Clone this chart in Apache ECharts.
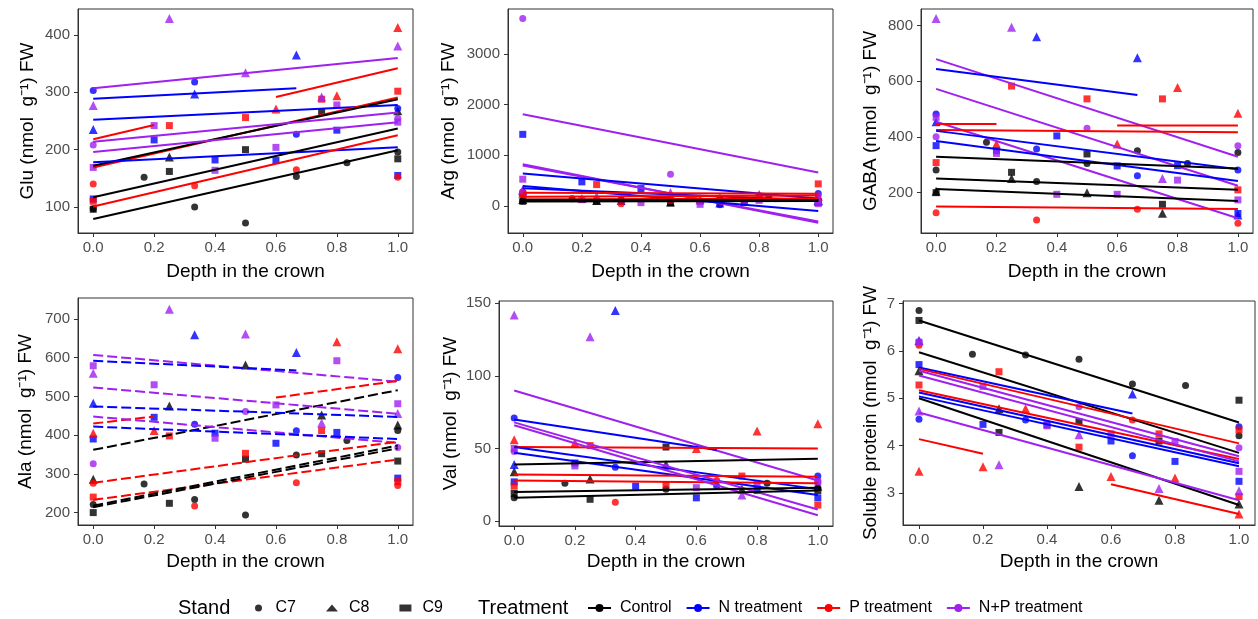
<!DOCTYPE html>
<html>
<head>
<meta charset="utf-8">
<script src="https://cdn.jsdelivr.net/npm/echarts@6/dist/echarts.min.js"></script>
<style>
html,body{margin:0;padding:0;background:#fff}
#chart{width:1258px;height:619px}
</style>
</head>
<body>
<div id="chart"></div>
<script>
// 处理 / 林分
const treatments = ['Control', 'N treatment', 'P treatment', 'N+P treatment'];
const stands = ['C7', 'C8', 'C9'];
const depthTicks = [0, 0.2, 0.4, 0.6, 0.8, 1];

// points: [depth, value, treatment, stand]
const gluPts = [
  [0,97,0,0],[0.167,152,0,0],[0.333,100,0,0],[0.5,72,0,0],[0.667,153,0,0],[0.833,177,0,0],[1,196,0,0],
  [0.25,187,0,1],[1,268,0,1],
  [0,96,0,2],[0.25,162,0,2],[0.5,200,0,2],[0.75,265,0,2],[1,184,0,2],
  [0,303,1,0],[0.333,318,1,0],[0.667,227,1,0],[1,272,1,0],
  [0,235,1,1],[0.333,297,1,1],[0.667,365,1,1],
  [0,114,1,2],[0.2,217,1,2],[0.4,182,1,2],[0.6,181,1,2],[0.8,234,1,2],[1,155,1,2],
  [0,140,2,0],[0.333,137,2,0],[0.667,165,2,0],[1,152,2,0],
  [0.6,271,2,1],[0.8,294,2,1],[1,413,2,1],
  [0,110,2,2],[0.25,242,2,2],[0.5,256,2,2],[0.75,288,2,2],[1,302,2,2],
  [0,208,3,0],[1,255,3,0],
  [0,277,3,1],[0.25,429,3,1],[0.5,334,3,1],[0.75,292,3,1],[1,381,3,1],
  [0,169,3,2],[0.2,242,3,2],[0.4,164,3,2],[0.6,204,3,2],[0.8,278,3,2],[1,248,3,2]
];
// fits: [x0, y0, x1, y1, treatment]
const gluFits = [
  [0,307,1,360,3],[0,289,0.667,307,1],[0.6,292,1,342,2],[0,252,1,278,1],[0,218,0.2,243,2],
  [0,169,1,291,2],[0,172,1,288,0],[0,214,1,265,3],[0,196,1,248,3],[0,178,1,204,1],
  [0,101,1,225,2],[0,117,1,237,0],[0,79,1,199,0]
];

const argPts = [
  [0,100,0,0],[0.167,145,0,0],[0.333,90,0,0],[0.5,70,0,0],[0.667,160,0,0],[0.833,165,0,0],[1,120,0,0],
  [0,130,0,1],[0.25,110,0,1],[0.5,80,0,1],[0.75,90,0,1],[1,100,0,1],
  [0,93,0,2],[0.25,93,0,2],[0.5,60,0,2],[0.75,80,0,2],[1,80,0,2],
  [0,220,1,0],[0.333,132,1,0],[0.667,26,1,0],[1,245,1,0],
  [0,300,1,1],[0.333,110,1,1],[0.667,60,1,1],[1,110,1,1],
  [0,1414,1,2],[0.2,476,1,2],[0.4,344,1,2],[0.6,93,1,2],[0.8,178,1,2],[1,73,1,2],
  [0,280,2,0],[0.333,46,2,0],[0.667,93,2,0],[1,100,2,0],
  [0,250,2,1],[0.2,150,2,1],[0.6,130,2,1],[0.8,225,2,1],[1,190,2,1],
  [0,245,2,2],[0.25,423,2,2],[0.5,112,2,2],[0.75,112,2,2],[1,436,2,2],
  [0,3700,3,0],[0.5,628,3,0],[1,200,3,0],
  [0,320,3,1],[0.25,190,3,1],[0.5,265,3,1],[0.75,100,3,1],[1,120,3,1],
  [0,529,3,2],[0.2,125,3,2],[0.4,66,3,2],[0.6,33,3,2],[0.8,112,3,2],[1,46,3,2]
];
const argFits = [
  [0,1811,1,661,3],[0,825,1,-330,3],[0,800,1,-305,3],[0,641,1,150,1],[0,397,1,-99,1],
  [0,350,1,110,1],[0,260,1,240,2],[0,180,1,205,2],[0,130,1,150,2],
  [0,105,1,115,0],[0,90,1,100,0],[0,125,1,120,0]
];

const gabaPts = [
  [0,281,0,0],[0.167,381,0,0],[0.333,240,0,0],[0.5,305,0,0],[0.667,351,0,0],[0.833,305,0,0],[1,344,0,0],
  [0,205,0,1],[0.25,251,0,1],[0.5,200,0,1],[0.75,126,0,1],
  [0,200,0,2],[0.25,273,0,2],[0.5,339,0,2],[0.75,158,0,2],
  [0,483,1,0],[0.333,357,1,0],[0.667,261,1,0],[1,281,1,0],
  [0,455,1,1],[0.333,760,1,1],[0.667,685,1,1],[1,120,1,1],
  [0,369,1,2],[0.2,351,1,2],[0.4,404,1,2],[0.6,296,1,2],[0.8,297,1,2],[1,125,1,2],
  [0,128,2,0],[0.333,102,2,0],[0.667,140,2,0],[1,90,2,0],
  [0.2,375,2,1],[0.6,375,2,1],[0.8,578,2,1],[1,485,2,1],
  [0,308,2,2],[0.25,583,2,2],[0.5,537,2,2],[0.75,537,2,2],[1,210,2,2],
  [0,401,3,0],[0.5,431,3,0],[1,369,3,0],
  [0,826,3,1],[0.25,794,3,1],[0.75,251,3,1],
  [0,471,3,2],[0.2,341,3,2],[0.4,194,3,2],[0.6,194,3,2],[0.8,245,3,2],[1,174,3,2]
];
const gabaFits = [
  [0,680,1,329,3],[0,644,0.667,551,1],[0,573,1,225,3],[0,455,1,108,3],[0,447,0.2,447,2],
  [0.6,441,1,441,2],[0,425,1,417,2],[0,150,1,141,2],[0,422,1,284,1],[0,386,1,242,1],
  [0,329,1,287,0],[0,251,1,210,0],[0,213,1,170,0]
];

const alaPts = [
  [0,221,0,0],[0.167,274,0,0],[0.333,234,0,0],[0.5,194,0,0],[0.667,349,0,0],[0.833,386,0,0],[1,412,0,0],
  [0,286,0,1],[0.25,475,0,1],[0.5,581,0,1],[0.75,452,0,1],[1,426,0,1],
  [0,200,0,2],[0.25,224,0,2],[0.5,338,0,2],[0.75,352,0,2],[1,333,0,2],
  [0.333,428,1,0],[0.667,411,1,0],[1,549,1,0],
  [0,482,1,1],[0.333,659,1,1],[0.667,613,1,1],
  [0,390,1,2],[0.2,446,1,2],[0.4,405,1,2],[0.6,379,1,2],[0.8,407,1,2],[1,289,1,2],
  [0,276,2,0],[0.333,217,2,0],[0.667,277,2,0],[1,270,2,0],
  [0,405,2,1],[0.2,412,2,1],[0.8,641,2,1],[1,623,2,1],
  [0,240,2,2],[0.25,398,2,2],[0.5,353,2,2],[0.75,412,2,2],[1,280,2,2],
  [0,326,3,0],[0.5,461,3,0],[1,368,3,0],
  [0,560,3,1],[0.25,725,3,1],[0.5,661,3,1],[0.75,431,3,1],[1,456,3,1],
  [0,579,3,2],[0.2,530,3,2],[0.4,392,3,2],[0.6,478,3,2],[0.8,592,3,2],[1,481,3,2]
];
const alaFits = [
  [0,607,1,538,3],[0,592,0.667,567,1],[0.6,497,1,540,2],[0,362,1,516,0],[0,523,1,455,3],
  [0,474,1,447,1],[0,430,0.2,448,2],[0,448,1,380,3],[0,422,1,390,1],[0,277,1,383,2],
  [0,233,1,337,2],[0,218,1,373,0],[0,214,1,366,0]
];

const valPts = [
  [0,16,0,0],[0.167,26,0,0],[0.5,22,0,0],[0.833,26,0,0],[1,23,0,0],
  [0,34,0,1],[0.25,29,0,1],[0.5,39,0,1],[0.75,22,0,1],[1,24,0,1],
  [0,19,0,2],[0.25,15,0,2],[0.5,51,0,2],[1,21,0,2],
  [0,71,1,0],[0.333,37,1,0],[0.667,24,1,0],[1,31,1,0],
  [0,39,1,1],[0.333,145,1,1],
  [0,27,1,2],[0.2,40,1,2],[0.4,24,1,2],[0.6,16,1,2],[0.8,21,1,2],[1,16,1,2],
  [0.333,13,2,0],[0.667,28,2,0],
  [0,56,2,1],[0.2,54,2,1],[0.6,50,2,1],[0.8,62,2,1],[1,67,2,1],
  [0,24,2,2],[0.25,52,2,2],[0.5,25,2,2],[0.75,31,2,2],[1,11,2,2],
  [0,48,3,0],[0.5,37,3,0],[1,27,3,0],
  [0,142,3,1],[0.25,127,3,1],[0.75,18,3,1],
  [0,50,3,2],[0.2,38,3,2],[0.6,23,3,2],[0.8,26,3,2],[1,27,3,2]
];
const valFits = [
  [0,90,1,28,3],[0,70,0.667,49,1],[0,51,1,50,2],[0,51,1,22,1],[0,47,1,18,1],
  [0,39,1,43,0],[0,32,1,30.5,2],[0,28,1,26,2],[0,68,1,8,3],[0,66,1,4,3],
  [0,20,1,23,0],[0,16,1,21,0]
];

const protPts = [
  [0,6.85,0,0],[0.167,5.93,0,0],[0.333,5.91,0,0],[0.5,5.82,0,0],[0.667,5.30,0,0],[0.833,5.27,0,0],[1,4.21,0,0],
  [0,5.58,0,1],[0.25,4.78,0,1],[0.5,3.14,0,1],[0.75,2.85,0,1],[1,2.77,0,1],
  [0,6.64,0,2],[0.25,4.28,0,2],[0.5,4.51,0,2],[0.75,4.10,0,2],[1,4.96,0,2],
  [0,4.56,1,0],[0.333,4.54,1,0],[0.667,3.79,1,0],[1,4.40,1,0],
  [0,6.22,1,1],[0.667,5.09,1,1],
  [0,5.71,1,2],[0.2,4.45,1,2],[0.4,4.44,1,2],[0.6,4.10,1,2],[0.8,3.67,1,2],[1,3.25,1,2],
  [0,6.12,2,0],[0.667,4.54,2,0],
  [0,3.46,2,1],[0.2,3.56,2,1],[0.333,4.78,2,1],[0.6,3.35,2,1],[0.8,3.32,2,1],[1,2.56,2,1],
  [0,5.28,2,2],[0.25,5.56,2,2],[0.5,3.97,2,2],[0.75,4.25,2,2],[1,4.33,2,2],[1,2.93,2,2],
  [0,6.19,3,0],[0.5,4.82,3,0],[1,3.96,3,0],
  [0,4.73,3,1],[0.25,3.60,3,1],[0.5,4.23,3,1],[0.75,3.10,3,1],[1,3.05,3,1],
  [0,6.18,3,2],[0.2,5.25,3,2],[0.4,4.42,3,2],[0.6,4.25,3,2],[0.8,4.09,3,2],[1,3.46,3,2]
];
const protFits = [
  [0,6.64,1,4.49,0],[0,5.97,1,3.85,0],[0,5.00,1,2.75,0],[0,5.65,0.667,4.68,1],[0,5.12,1,3.63,1],
  [0,5.04,1,3.57,1],[0,5.62,1,4.05,2],[0,5.17,1,3.72,2],[0,4.14,0.2,3.83,2],[0.6,3.19,1,2.56,2],
  [0,5.58,1,3.78,3],[0,5.48,1,3.67,3],[0,4.70,1,2.85,3]
];

const COLORS = ['#000000', '#0000FF', '#FF0000', '#A020F0'];
const SHAPES = ['circle', 'triangle', 'rect'];
const SIZES = [7, 9, 7];
const FONT = "'Liberation Sans', Arial, sans-serif";
const NARROW = "'Liberation Sans Narrow', 'Liberation Sans', Arial, sans-serif";

const panels = [
  {title: 'Glu (nmol  g⁻¹) FW', pts: gluPts, fits: gluFits, min: 54.6, max: 445.4, ticks: [100,200,300,400],
   grid: {left: 78, top: 9, width: 335, height: 224}, yGap: 41, xGap: 29},
  {title: 'Arg (nmol  g⁻¹) FW', pts: argPts, fits: argFits, min: -533, max: 3888, ticks: [0,1000,2000,3000],
   grid: {left: 508, top: 9, width: 325, height: 224}, yGap: 50, xGap: 29},
  {title: 'GABA (nmol  g⁻¹) FW', pts: gabaPts, fits: gabaFits, min: 55, max: 860, ticks: [200,400,600,800],
   grid: {left: 921, top: 9, width: 332, height: 224}, yGap: 41, xGap: 29},
  {title: 'Ala (nmol  g⁻¹) FW', pts: alaPts, fits: alaFits, min: 168, max: 754, ticks: [200,300,400,500,600,700],
   grid: {left: 78, top: 298, width: 335, height: 227}, yGap: 43, xGap: 27, dashed: true},
  {title: 'Val (nmol  g⁻¹) FW', pts: valPts, fits: valFits, min: -3.4, max: 151.6, ticks: [0,50,100,150],
   grid: {left: 499, top: 301, width: 334, height: 225}, yGap: 39, xGap: 26},
  {title: 'Soluble protein (nmol  g⁻¹) FW', pts: protPts, fits: protFits, min: 2.33, max: 7.05, ticks: [3,4,5,6,7],
   grid: {left: 903, top: 301, width: 352, height: 224}, yGap: 23, xGap: 27}
];

let grids = [], xAxes = [], yAxes = [], series = [];

panels.forEach(function(p, i){
  grids.push(Object.assign({show: true, borderColor: '#333', borderWidth: 1, backgroundColor: '#fff'}, p.grid));
  xAxes.push({
    type: 'value', gridIndex: i, min: -0.05, max: 1.05,
    name: 'Depth in the crown', nameLocation: 'middle', nameGap: p.xGap,
    nameTextStyle: {fontSize: 19, color: '#000', fontFamily: FONT},
    axisLine: {show: true, onZero: false, lineStyle: {color: '#333', width: 1}},
    axisTick: {show: true, length: 4, customValues: depthTicks, lineStyle: {color: '#333'}},
    axisLabel: {customValues: depthTicks, formatter: function(v){ return v.toFixed(1); },
      fontSize: 15, color: '#4d4d4d', fontFamily: FONT, margin: 7},
    splitLine: {show: false}
  });
  yAxes.push({
    type: 'value', gridIndex: i, min: p.min, max: p.max,
    name: p.title, nameLocation: 'middle', nameGap: p.yGap,
    nameTextStyle: {fontSize: 19, color: '#000', fontFamily: FONT},
    axisLine: {show: true, onZero: false, lineStyle: {color: '#333', width: 1}},
    axisTick: {show: true, length: 4, customValues: p.ticks, lineStyle: {color: '#333'}},
    axisLabel: {customValues: p.ticks, formatter: function(v){ return String(v); },
      fontSize: 15, color: '#4d4d4d', fontFamily: FONT, margin: 8},
    splitLine: {show: false}
  });
  //散点
  series.push({
    type: 'scatter', xAxisIndex: i, yAxisIndex: i, silent: true, z: 2,
    data: p.pts.map(function(d){
      return {value: [d[0], d[1]], symbol: SHAPES[d[3]], symbolSize: SIZES[d[3]],
        itemStyle: {color: COLORS[d[2]]}};
    })
  });
  //拟合线
  p.fits.forEach(function(f){
    series.push({
      type: 'line', xAxisIndex: i, yAxisIndex: i, silent: true, z: 3,
      showSymbol: false, symbol: 'none', clip: true, animation: false,
      lineStyle: {color: COLORS[f[4]], width: 2, type: p.dashed ? [10, 4] : 'solid'},
      data: [[f[0], f[1]], [f[2], f[3]]]
    });
  });
});

// legend dummies
stands.forEach(function(s, k){
  series.push({type: 'scatter', name: s, xAxisIndex: 0, yAxisIndex: 0, symbol: SHAPES[k],
    symbolSize: SIZES[k], itemStyle: {color: '#000'}, data: []});
});
treatments.forEach(function(t, k){
  series.push({type: 'line', name: t, xAxisIndex: 0, yAxisIndex: 0, symbol: 'circle', symbolSize: 6,
    itemStyle: {color: COLORS[k]}, lineStyle: {color: COLORS[k], width: 2}, data: []});
});

const chart = echarts.init(document.getElementById('chart'));
chart.setOption({
  animation: false,
  backgroundColor: '#fff',
  grid: grids, xAxis: xAxes, yAxis: yAxes, series: series,
  legend: [
    {data: stands, left: 250, top: 595, itemWidth: 12, itemHeight: 7, itemGap: 30,
     textStyle: {fontSize: 16, color: '#000', fontFamily: NARROW, padding: [0, 0, 0, 6]}},
    {data: treatments, left: 582, top: 595, itemWidth: 23, itemHeight: 10, itemGap: 14,
     textStyle: {fontSize: 16, color: '#000', fontFamily: NARROW, padding: [0, 0, 0, 4]}}
  ],
  graphic: [
    {type: 'text', left: 178, top: 598, style: {text: 'Stand', fontSize: 20, fill: '#000', fontFamily: NARROW}},
    {type: 'text', left: 478, top: 598, style: {text: 'Treatment', fontSize: 20, fill: '#000', fontFamily: NARROW}}
  ]
});
</script>
</body>
</html>
